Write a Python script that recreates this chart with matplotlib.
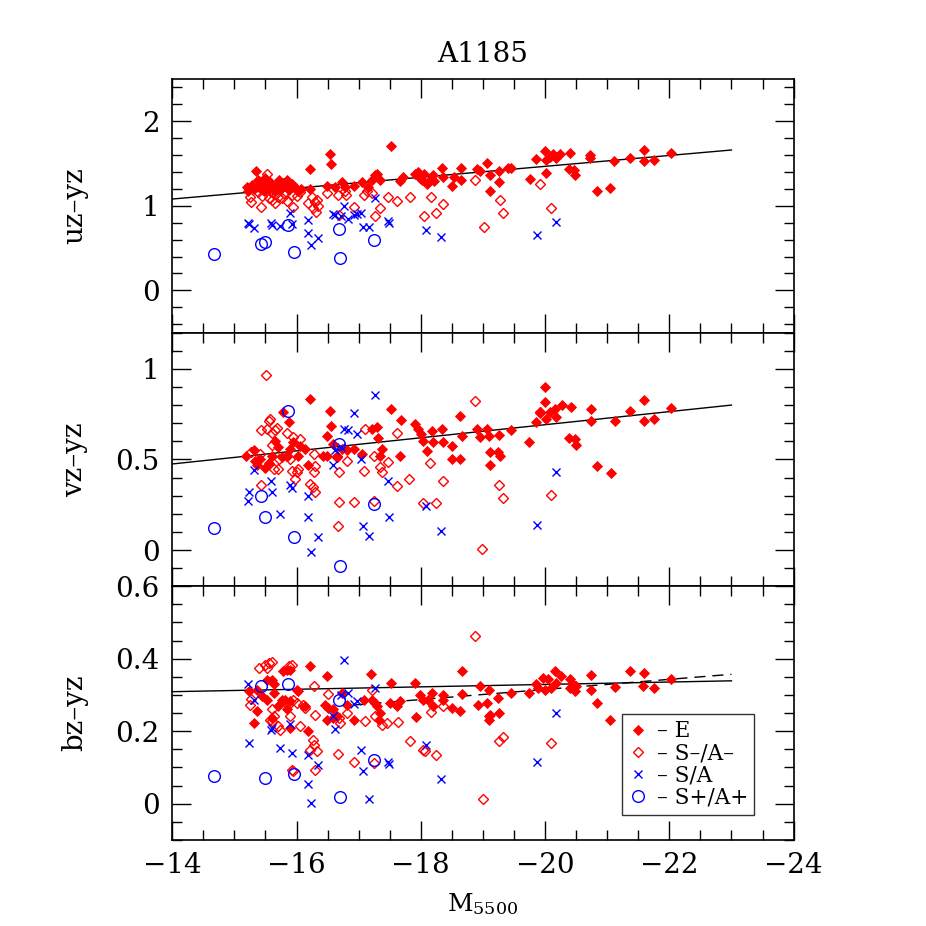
import numpy as np
import matplotlib
matplotlib.use("Agg")
import matplotlib.pyplot as plt
from matplotlib.lines import Line2D
from matplotlib.ticker import FixedLocator, MultipleLocator, FuncFormatter

# --- data ---
# S/A (crosses) and S+/A+ (circles): same galaxies in every panel
sa_x = [-15.22, -15.23, -15.32, -15.59, -15.60, -15.74, -15.90, -15.93, -16.18, -16.19,
        -16.24, -16.34, -16.59, -16.62, -16.71, -16.77, -16.83, -16.92, -16.98, -17.04,
        -17.07, -17.17, -17.26, -17.48, -17.49, -18.09, -18.33, -19.87, -20.17]
sa_uz = [0.80, 0.78, 0.74, 0.80, 0.77, 0.765, 0.91, 0.78, 0.675, 0.83,
         0.54, 0.615, 0.90, 0.89, 0.88, 1.00, 0.84, 0.89, 0.90, 0.92,
         0.75, 0.75, 1.09, 0.82, 0.80, 0.71, 0.635, 0.66, 0.81]
sa_vz = [0.27, 0.32, 0.44, 0.38, 0.32, 0.20, 0.36, 0.34, 0.185, 0.30,
         -0.01, 0.073, 0.47, 0.55, 0.57, 0.67, 0.66, 0.757, 0.64, 0.50,
         0.135, 0.076, 0.857, 0.38, 0.18, 0.245, 0.103, 0.14, 0.43]
sa_bz = [0.33, 0.168, 0.285, 0.204, 0.21, 0.153, 0.22, 0.14, 0.055, 0.135,
         0.002, 0.106, 0.243, 0.207, 0.30, 0.396, 0.306, 0.275, 0.283, 0.147,
         0.091, 0.014, 0.32, 0.114, 0.11, 0.163, 0.069, 0.114, 0.25]

sp_x = [-14.68, -15.43, -15.49, -15.86, -15.96, -16.69, -16.70, -17.25]
sp_uz = [0.435, 0.55, 0.57, 0.77, 0.45, 0.73, 0.38, 0.60]
sp_vz = [0.12, 0.30, 0.18, 0.77, 0.07, 0.585, -0.09, 0.255]
sp_bz = [0.077, 0.326, 0.072, 0.33, 0.083, 0.285, 0.018, 0.12]

# E (filled diamonds), per panel (x, colour)
e_uz = [(-15.20, 1.22), (-15.22, 1.18), (-15.28, 1.25), (-15.32, 1.20), (-15.35, 1.41),
        (-15.38, 1.30), (-15.40, 1.22), (-15.43, 1.27), (-15.47, 1.18), (-15.50, 1.33),
        (-15.52, 1.24), (-15.55, 1.20), (-15.58, 1.28), (-15.62, 1.22), (-15.65, 1.17),
        (-15.68, 1.25), (-15.72, 1.31), (-15.75, 1.20), (-15.78, 1.27), (-15.82, 1.23),
        (-15.85, 1.30), (-15.88, 1.19), (-15.92, 1.26), (-15.97, 1.22), (-16.02, 1.18),
        (-16.08, 1.20), (-16.21, 1.43), (-16.22, 1.20), (-16.49, 1.23), (-16.54, 1.61),
        (-16.55, 1.49), (-16.62, 1.22), (-16.73, 1.28), (-16.78, 1.22), (-16.93, 1.23),
        (-17.06, 1.28), (-17.15, 1.22), (-17.22, 1.31), (-17.27, 1.36), (-17.29, 1.38),
        (-17.34, 1.30), (-17.52, 1.71), (-17.67, 1.29), (-17.72, 1.34), (-17.90, 1.38),
        (-17.95, 1.40), (-17.98, 1.33), (-18.02, 1.30), (-18.05, 1.38), (-18.10, 1.26),
        (-18.15, 1.31), (-18.20, 1.37), (-18.22, 1.29), (-18.34, 1.45), (-18.36, 1.34),
        (-18.50, 1.23), (-18.53, 1.34), (-18.65, 1.45), (-18.65, 1.31), (-18.91, 1.43),
        (-18.95, 1.41), (-19.07, 1.51), (-19.11, 1.17), (-19.12, 1.37), (-19.26, 1.41),
        (-19.26, 1.28), (-19.41, 1.45), (-19.46, 1.45), (-19.75, 1.32), (-19.86, 1.55),
        (-20.00, 1.65), (-20.01, 1.54), (-20.01, 1.39), (-20.08, 1.58), (-20.13, 1.61),
        (-20.18, 1.57), (-20.24, 1.61), (-20.40, 1.63), (-20.38, 1.44), (-20.46, 1.42),
        (-20.49, 1.36), (-20.73, 1.60), (-20.73, 1.57), (-20.84, 1.18), (-21.05, 1.21),
        (-21.11, 1.53), (-21.36, 1.57), (-21.59, 1.53), (-21.60, 1.66), (-21.75, 1.54),
        (-22.02, 1.62)]
e_vz = [(-15.19, 0.52), (-15.31, 0.55), (-15.33, 0.49), (-15.36, 0.47), (-15.41, 0.50),
        (-15.50, 0.45), (-15.55, 0.48), (-15.60, 0.52), (-15.66, 0.60), (-15.71, 0.567),
        (-15.76, 0.512), (-15.84, 0.52), (-15.90, 0.558), (-15.95, 0.595), (-16.03, 0.52),
        (-16.06, 0.576), (-16.14, 0.558), (-16.19, 0.47), (-16.43, 0.52), (-16.49, 0.52),
        (-16.59, 0.586), (-16.73, 0.558), (-16.92, 0.558), (-17.05, 0.53), (-16.65, 0.52),
        (-16.81, 0.55), (-16.21, 0.834), (-16.54, 0.766), (-15.88, 0.705), (-15.79, 0.764),
        (-17.52, 0.779), (-17.68, 0.715), (-16.56, 0.683), (-16.49, 0.628), (-17.21, 0.67),
        (-17.30, 0.68), (-17.31, 0.62), (-17.37, 0.56), (-17.35, 0.52), (-17.66, 0.52),
        (-17.91, 0.696), (-17.96, 0.668), (-18.01, 0.64), (-18.04, 0.604), (-18.10, 0.549),
        (-18.18, 0.659), (-18.20, 0.595), (-18.34, 0.669), (-18.36, 0.595), (-18.50, 0.573),
        (-18.63, 0.739), (-18.66, 0.628), (-18.50, 0.503), (-18.63, 0.503), (-18.90, 0.669),
        (-18.95, 0.623), (-19.06, 0.669), (-19.09, 0.631), (-19.11, 0.54), (-19.11, 0.47),
        (-19.25, 0.54), (-19.27, 0.52), (-19.26, 0.635), (-19.46, 0.663), (-19.74, 0.598),
        (-19.86, 0.705), (-19.92, 0.757), (-20.00, 0.899), (-20.00, 0.816), (-20.02, 0.724),
        (-20.08, 0.761), (-20.16, 0.779), (-20.18, 0.733), (-20.27, 0.803), (-20.41, 0.788),
        (-20.39, 0.617), (-20.48, 0.613), (-20.50, 0.58), (-20.74, 0.779), (-20.74, 0.711),
        (-20.83, 0.462), (-21.06, 0.425), (-21.12, 0.714), (-21.36, 0.77), (-21.60, 0.83),
        (-21.59, 0.714), (-21.75, 0.724), (-22.02, 0.785)]
e_bz = [(-16.21, 0.379), (-16.49, 0.352), (-17.20, 0.359), (-17.52, 0.333), (-17.91, 0.333),
        (-18.67, 0.366), (-15.84, 0.37), (-15.90, 0.37), (-15.78, 0.365), (-15.60, 0.34),
        (-15.63, 0.33), (-15.52, 0.34), (-15.23, 0.31), (-15.36, 0.315), (-15.44, 0.296),
        (-15.52, 0.287), (-15.63, 0.306), (-15.76, 0.287), (-15.71, 0.269), (-15.82, 0.287),
        (-15.90, 0.283), (-16.03, 0.31), (-16.00, 0.315), (-16.14, 0.269), (-16.19, 0.20),
        (-15.90, 0.209), (-15.31, 0.223), (-15.36, 0.255), (-15.60, 0.237), (-15.84, 0.26),
        (-16.46, 0.273), (-16.51, 0.264), (-16.59, 0.26), (-16.65, 0.241), (-16.49, 0.232),
        (-16.59, 0.237), (-16.73, 0.306), (-16.81, 0.273), (-16.92, 0.232), (-17.08, 0.287),
        (-17.21, 0.287), (-17.26, 0.278), (-17.29, 0.269), (-17.34, 0.25), (-17.32, 0.232),
        (-17.50, 0.278), (-17.66, 0.283), (-17.61, 0.269), (-17.93, 0.238), (-17.99, 0.301),
        (-18.04, 0.287), (-18.12, 0.287), (-18.18, 0.306), (-18.20, 0.269), (-18.36, 0.301),
        (-18.36, 0.287), (-18.50, 0.264), (-18.63, 0.255), (-18.66, 0.304), (-18.92, 0.273),
        (-18.95, 0.324), (-19.09, 0.315), (-19.09, 0.241), (-19.09, 0.232), (-19.06, 0.278),
        (-19.11, 0.246), (-19.25, 0.292), (-19.26, 0.25), (-19.46, 0.306), (-19.74, 0.306),
        (-19.86, 0.329), (-19.89, 0.32), (-19.97, 0.347), (-20.00, 0.315), (-20.05, 0.343),
        (-20.10, 0.32), (-20.16, 0.365), (-20.17, 0.333), (-20.26, 0.352), (-20.40, 0.344),
        (-20.40, 0.32), (-20.45, 0.329), (-20.48, 0.31), (-20.50, 0.324), (-20.74, 0.356),
        (-20.74, 0.315), (-20.83, 0.278), (-21.05, 0.232), (-21.12, 0.321), (-21.36, 0.365),
        (-21.58, 0.326), (-21.60, 0.361), (-21.75, 0.318), (-22.02, 0.343)]

# S-/A- (open diamonds), per panel
sm_uz = [(-15.25, 1.11), (-15.27, 1.05), (-15.43, 0.99), (-15.38, 1.16), (-15.45, 1.12),
         (-15.52, 1.38), (-15.50, 1.22), (-15.55, 1.09), (-15.60, 1.07), (-15.58, 1.18),
         (-15.63, 1.14), (-15.66, 1.03), (-15.70, 1.10), (-15.76, 1.09), (-15.80, 1.15),
         (-15.85, 1.06), (-15.92, 1.13), (-15.94, 0.99), (-16.00, 1.12), (-16.05, 1.16),
         (-16.19, 1.03), (-16.25, 1.10), (-16.27, 0.97), (-16.29, 1.04), (-16.31, 0.93),
         (-16.33, 1.07), (-16.35, 1.00), (-16.49, 1.15), (-16.67, 1.13), (-16.68, 0.89),
         (-16.78, 1.18), (-16.80, 1.13), (-16.93, 0.99), (-17.08, 1.13), (-17.14, 1.18),
         (-17.21, 1.15), (-17.26, 0.88), (-17.34, 0.97), (-17.48, 1.11), (-17.61, 1.06),
         (-17.82, 1.10), (-18.05, 0.88), (-18.16, 1.10), (-18.24, 0.91), (-18.36, 1.02),
         (-18.88, 1.30), (-19.01, 0.75), (-19.27, 1.07), (-19.33, 0.92), (-19.92, 1.26),
         (-20.10, 0.97)]
sm_vz = [(-15.51, 0.968), (-18.88, 0.82), (-15.55, 0.714), (-15.58, 0.724), (-15.43, 0.663),
         (-15.52, 0.669), (-15.66, 0.665), (-15.69, 0.672), (-15.60, 0.646), (-15.85, 0.646),
         (-15.95, 0.623), (-15.84, 0.521), (-15.90, 0.503), (-15.92, 0.438), (-16.00, 0.429),
         (-16.03, 0.448), (-15.98, 0.392), (-16.06, 0.613), (-16.28, 0.53), (-16.28, 0.429),
         (-16.30, 0.466), (-16.22, 0.365), (-16.27, 0.346), (-16.30, 0.319), (-15.43, 0.359),
         (-15.72, 0.503), (-15.63, 0.448), (-15.71, 0.448), (-16.65, 0.512), (-16.68, 0.433),
         (-16.81, 0.493), (-17.10, 0.669), (-17.09, 0.438), (-17.25, 0.521), (-17.35, 0.457),
         (-17.38, 0.429), (-17.48, 0.485), (-17.62, 0.646), (-17.61, 0.355), (-17.81, 0.392),
         (-18.15, 0.479), (-18.04, 0.26), (-18.25, 0.26), (-18.36, 0.383), (-16.68, 0.264),
         (-16.92, 0.267), (-16.67, 0.131), (-17.24, 0.272), (-18.99, 0.005), (-19.26, 0.361),
         (-19.33, 0.286), (-20.10, 0.304), (-19.92, 0.76), (-15.26, 0.54), (-15.41, 0.53),
         (-15.60, 0.58)]
sm_bz = [(-18.88, 0.464), (-15.39, 0.375), (-15.50, 0.384), (-15.55, 0.389), (-15.60, 0.39),
         (-15.52, 0.375), (-15.92, 0.384), (-15.88, 0.38), (-16.28, 0.326), (-16.51, 0.304),
         (-17.21, 0.315), (-15.25, 0.271), (-15.27, 0.29), (-15.60, 0.26), (-15.63, 0.241),
         (-15.58, 0.232), (-15.60, 0.227), (-15.71, 0.213), (-15.74, 0.204), (-15.90, 0.241),
         (-15.95, 0.287), (-15.87, 0.273), (-16.00, 0.278), (-16.06, 0.213), (-16.11, 0.273),
         (-16.14, 0.264), (-16.30, 0.246), (-16.27, 0.177), (-16.28, 0.163), (-16.22, 0.149),
         (-16.33, 0.144), (-16.30, 0.094), (-15.95, 0.089), (-15.92, 0.094), (-16.68, 0.237),
         (-16.70, 0.223), (-16.81, 0.25), (-16.66, 0.137), (-16.93, 0.114), (-17.10, 0.227),
         (-17.26, 0.241), (-17.25, 0.112), (-17.37, 0.218), (-17.45, 0.223), (-17.64, 0.225),
         (-17.83, 0.172), (-18.04, 0.149), (-18.07, 0.144), (-18.24, 0.133), (-18.36, 0.269),
         (-18.16, 0.252), (-19.00, 0.013), (-19.26, 0.172), (-19.33, 0.184), (-20.10, 0.168)]

# fitted relations (end points)
fit_x = [-14.0, -23.0]
fit_uz = [1.08, 1.66]
fit_vz = [0.475, 0.80]
fit_bz = [0.309, 0.339]
dash_x = [-16.9, -23.0]
dash_bz = [0.272, 0.357]

panels = [
    ("uz\u2013yz", e_uz, sm_uz, sa_uz, sp_uz, fit_uz, (-0.5, 2.5), [0, 1, 2], 0.2),
    ("vz\u2013yz", e_vz, sm_vz, sa_vz, sp_vz, fit_vz, (-0.2, 1.2), [0, 0.5, 1], 0.1),
    ("bz\u2013yz", e_bz, sm_bz, sa_bz, sp_bz, fit_bz, (-0.1, 0.6), [0, 0.2, 0.4, 0.6], 0.05),
]

plt.rcParams['font.family'] = ['DejaVu Serif']
plt.rcParams['mathtext.default'] = 'regular'

RED = '#ff0000'
BLUE = '#0000ff'
E_STYLE = dict(marker='D', ms=5.6, mfc=RED, mec=RED, mew=0.6, ls='none')
SM_STYLE = dict(marker='D', ms=5.4, mfc='none', mec=RED, mew=1.0, ls='none')
SA_STYLE = dict(marker='x', ms=6.2, mec=BLUE, mew=1.0, ls='none')
SP_STYLE = dict(marker='o', ms=8.4, mfc='none', mec=BLUE, mew=1.0, ls='none')


def minus_fmt(v, pos):
    return ('%g' % v).replace('-', '\u2212')


fig = plt.figure(figsize=(9.26, 9.26), dpi=100)
left, width = 0.186, 0.671
bottom, height = 0.093, 0.2739
axes = []
for i in range(3):
    ax = fig.add_axes([left, bottom + (2 - i) * height, width, height])
    axes.append(ax)

for i, (lab, e, sm, sa, sp, fit, ylim, yt, ymin) in enumerate(panels):
    ax = axes[i]
    ex, ey = zip(*e)
    mx, my = zip(*sm)
    ax.plot(fit_x, fit, color='black', lw=1.0, zorder=1)
    if i == 2:
        ax.plot(dash_x, dash_bz, color='black', lw=1.0, ls=(0, (8, 5)), zorder=1)
    ax.plot(ex, ey, zorder=2, **E_STYLE)
    ax.plot(mx, my, zorder=3, **SM_STYLE)
    ax.plot(sa_x, sa, zorder=4, **SA_STYLE)
    ax.plot(sp_x, sp, zorder=5, **SP_STYLE)

    ax.set_xlim(-14, -24)
    ax.set_ylim(*ylim)
    ax.yaxis.set_major_locator(FixedLocator(yt))
    ax.yaxis.set_minor_locator(MultipleLocator(ymin))
    ax.yaxis.set_major_formatter(FuncFormatter(minus_fmt))
    ax.xaxis.set_major_locator(MultipleLocator(2))
    ax.xaxis.set_minor_locator(MultipleLocator(0.5))
    ax.xaxis.set_major_formatter(FuncFormatter(minus_fmt))
    ax.tick_params(which='both', direction='in', top=True, right=True, width=1.0,
                   labelsize=20, pad=9)
    ax.tick_params(which='major', length=14)
    ax.tick_params(which='minor', length=7)
    for s in ax.spines.values():
        s.set_linewidth(1.2)
    ax.set_ylabel(lab, fontsize=20)
    ax.yaxis.set_label_coords(-0.135, 0.5)
    if i < 2:
        ax.tick_params(labelbottom=False)

axes[0].set_title('A1185', fontsize=20, pad=12)
axes[2].set_xlabel('M$_{5500}$', fontsize=18)
axes[2].xaxis.set_label_coords(0.5, -0.2)
axes[2].xaxis.label.set_va('top')

handles = [Line2D([], [], **E_STYLE), Line2D([], [], **SM_STYLE),
           Line2D([], [], **SA_STYLE), Line2D([], [], **SP_STYLE)]
labels = ['\u2013 E', '\u2013 S\u2013/A\u2013', '\u2013 S/A', '\u2013 S+/A+']
leg = axes[2].legend(handles, labels, loc='lower right', bbox_to_anchor=(0.937, 0.099),
                     borderaxespad=0, fontsize=15.5, frameon=True, fancybox=False,
                     edgecolor='black', handlelength=0.9, handletextpad=0.4,
                     labelspacing=0.0, borderpad=0.3)
leg.get_frame().set_linewidth(1.0)

fig.savefig('out.png', dpi=100)
